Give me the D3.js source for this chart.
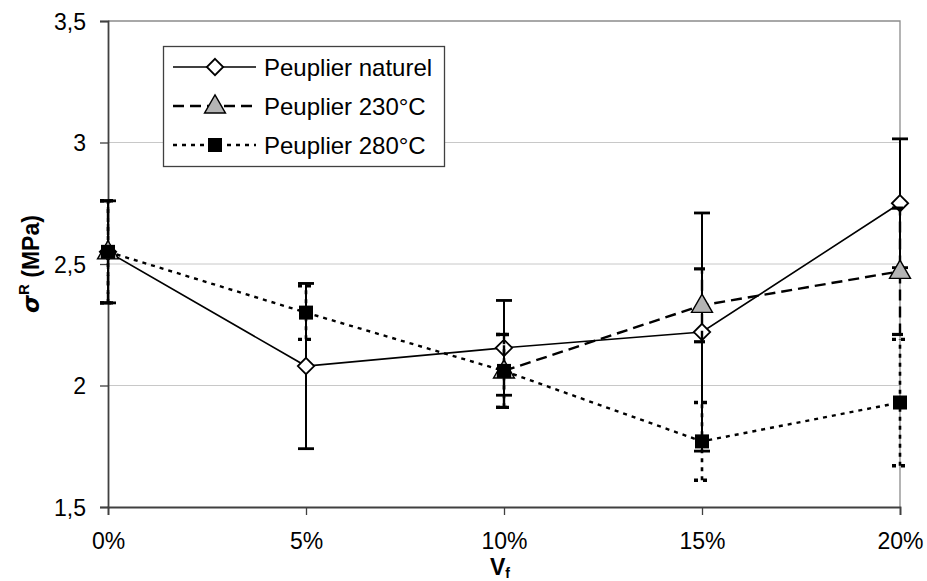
<!DOCTYPE html>
<html><head><meta charset="utf-8">
<script src="https://cdn.jsdelivr.net/npm/d3@7"></script>
<style>body{margin:0;background:#fff}svg{display:block}text{font-family:"Liberation Sans",Arial,sans-serif}</style>
</head><body>
<script>
const categories = ["0%","5%","10%","15%","20%"];
const xValues = [0,5,10,15,20];
const yTicks = [1.5,2,2.5,3,3.5];
const yTickLabels = ["1,5","2","2,5","3","3,5"];
const naturel = [2.55, 2.08, 2.155, 2.22, 2.75];
const naturelErr = [0.21, 0.34, 0.195, 0.49, 0.265];
const p230 = [2.55, null, 2.06, 2.33, 2.47];
const p230Err = [0.21, null, 0.15, 0.15, 0.26];
const p280 = [2.55, 2.30, 2.06, 1.77, 1.93];
const p280Err = [0.21, 0.11, 0.15, 0.16, 0.26];
const seriesNames = ["Peuplier naturel","Peuplier 230°C","Peuplier 280°C"];

const W=927,H=581;
const svg=d3.select("body").append("svg").attr("width",W).attr("height",H);
const x=d3.scaleLinear().domain([0,20]).range([108,900]);
const y=d3.scaleLinear().domain([1.5,3.5]).range([507,21]);

// gridlines
svg.append("g").selectAll("line").data([2,2.5,3]).join("line")
  .attr("x1",x(0)).attr("x2",x(20)).attr("y1",d=>y(d)).attr("y2",d=>y(d))
  .attr("stroke","#c8c8c8").attr("stroke-width",1);
// top & right border
svg.append("path").attr("d",`M${x(0)},${y(3.5)}H${x(20)}V${y(1.5)}`).attr("fill","none").attr("stroke","#8c8c8c").attr("stroke-width",1.3);

// axes
const yAxis=d3.axisLeft(y).tickValues(yTicks).tickFormat((d,i)=>yTickLabels[i]).tickSize(8).tickPadding(14);
const gy=svg.append("g").attr("transform",`translate(${x(0)},0)`).call(yAxis);
const xAxis=d3.axisBottom(x).tickValues(xValues).tickFormat((d,i)=>categories[i]).tickSize(8).tickPadding(18);
const gx=svg.append("g").attr("transform",`translate(0,${y(1.5)})`).call(xAxis);
[gx,gy].forEach(g=>{g.select(".domain").attr("stroke","#404040").attr("stroke-width",1.8);
  g.selectAll(".tick line").attr("stroke","#404040").attr("stroke-width",1.3);
  g.selectAll(".tick text").attr("font-size",23).attr("fill","#000").attr("font-family","Liberation Sans, Arial, sans-serif");});
gy.selectAll(".tick text").attr("dy","0.36em");

// axis titles
svg.append("text").attr("x",x(10)-4).attr("y",575).attr("text-anchor","middle").attr("font-size",23).attr("font-weight","bold")
  .text("V").append("tspan").attr("font-size",14).attr("dy",3).text("f");
const yt=svg.append("text").attr("transform","translate(39,264) rotate(-90)").attr("text-anchor","middle").attr("font-size",23).attr("font-weight","bold");
yt.append("tspan").attr("font-style","italic").attr("font-family","DejaVu Sans").text("σ");
yt.append("tspan").attr("font-size",15).attr("dy",-10).text("R");
yt.append("tspan").attr("dy",10).text(" (MPa)");

const styles=[
  {vals:naturel,err:naturelErr,dash:null,lw:1.6,ew:2,marker:"diamond"},
  {vals:p230,err:p230Err,dash:"11,6",lw:2.4,ew:2.4,marker:"triangle"},
  {vals:p280,err:p280Err,dash:"4,5",lw:2.4,ew:2.6,marker:"square"}
];

function drawMarker(g,type,cx,cy){
  if(type==="diamond"){
    g.append("path").attr("d",d3.symbol(d3.symbolDiamond2,170)()).attr("transform",`translate(${cx},${cy})`)
     .attr("fill","#fff").attr("stroke","#000").attr("stroke-width",1.8);
  } else if(type==="triangle"){
    g.append("path").attr("d",d3.symbol(d3.symbolTriangle,190)()).attr("transform",`translate(${cx},${cy+1})`)
     .attr("fill","#b4b4b4").attr("stroke","#000").attr("stroke-width",1.4);
  } else {
    g.append("rect").attr("x",cx-7).attr("y",cy-7).attr("width",14).attr("height",14).attr("fill","#000");
  }
}

styles.forEach(s=>{
  const g=svg.append("g");
  // error bars
  s.vals.forEach((v,i)=>{
    if(v==null) return;
    const e=s.err[i];
    const ge=g.append("g").attr("stroke","#000").attr("stroke-width",s.ew).attr("stroke-dasharray",s.dash);
    ge.append("line").attr("x1",x(xValues[i])).attr("x2",x(xValues[i])).attr("y1",y(v-e)).attr("y2",y(v+e));
    [v-e,v+e].forEach(b=>ge.append("line").attr("x1",x(xValues[i])-8).attr("x2",x(xValues[i])+8).attr("y1",y(b)).attr("y2",y(b)).attr("stroke-width",s.ew+0.8));
  });
  const line=d3.line().defined(d=>d.v!=null).x(d=>x(d.x)).y(d=>y(d.v));
  g.append("path").attr("d",line(s.vals.map((v,i)=>({x:xValues[i],v}))))
   .attr("fill","none").attr("stroke","#000").attr("stroke-width",s.lw).attr("stroke-dasharray",s.dash);
  s.vals.forEach((v,i)=>{ if(v!=null) drawMarker(g,s.marker,x(xValues[i]),y(v)); });
});

// legend
const lg=svg.append("g");
lg.append("rect").attr("x",163.5).attr("y",46.5).attr("width",281).attr("height",120).attr("fill","#fff").attr("stroke","#404040").attr("stroke-width",1.3);
const rowsY=[67,106,145];
styles.forEach((s,i)=>{
  lg.append("line").attr("x1",173).attr("x2",256).attr("y1",rowsY[i]).attr("y2",rowsY[i])
    .attr("stroke","#000").attr("stroke-width",s.lw).attr("stroke-dasharray",s.dash);
  drawMarker(lg,s.marker,215,rowsY[i]);
  lg.append("text").attr("x",264).attr("y",rowsY[i]).attr("dy","0.36em").attr("font-size",24).text(seriesNames[i]);
});
</script>
</body></html>
